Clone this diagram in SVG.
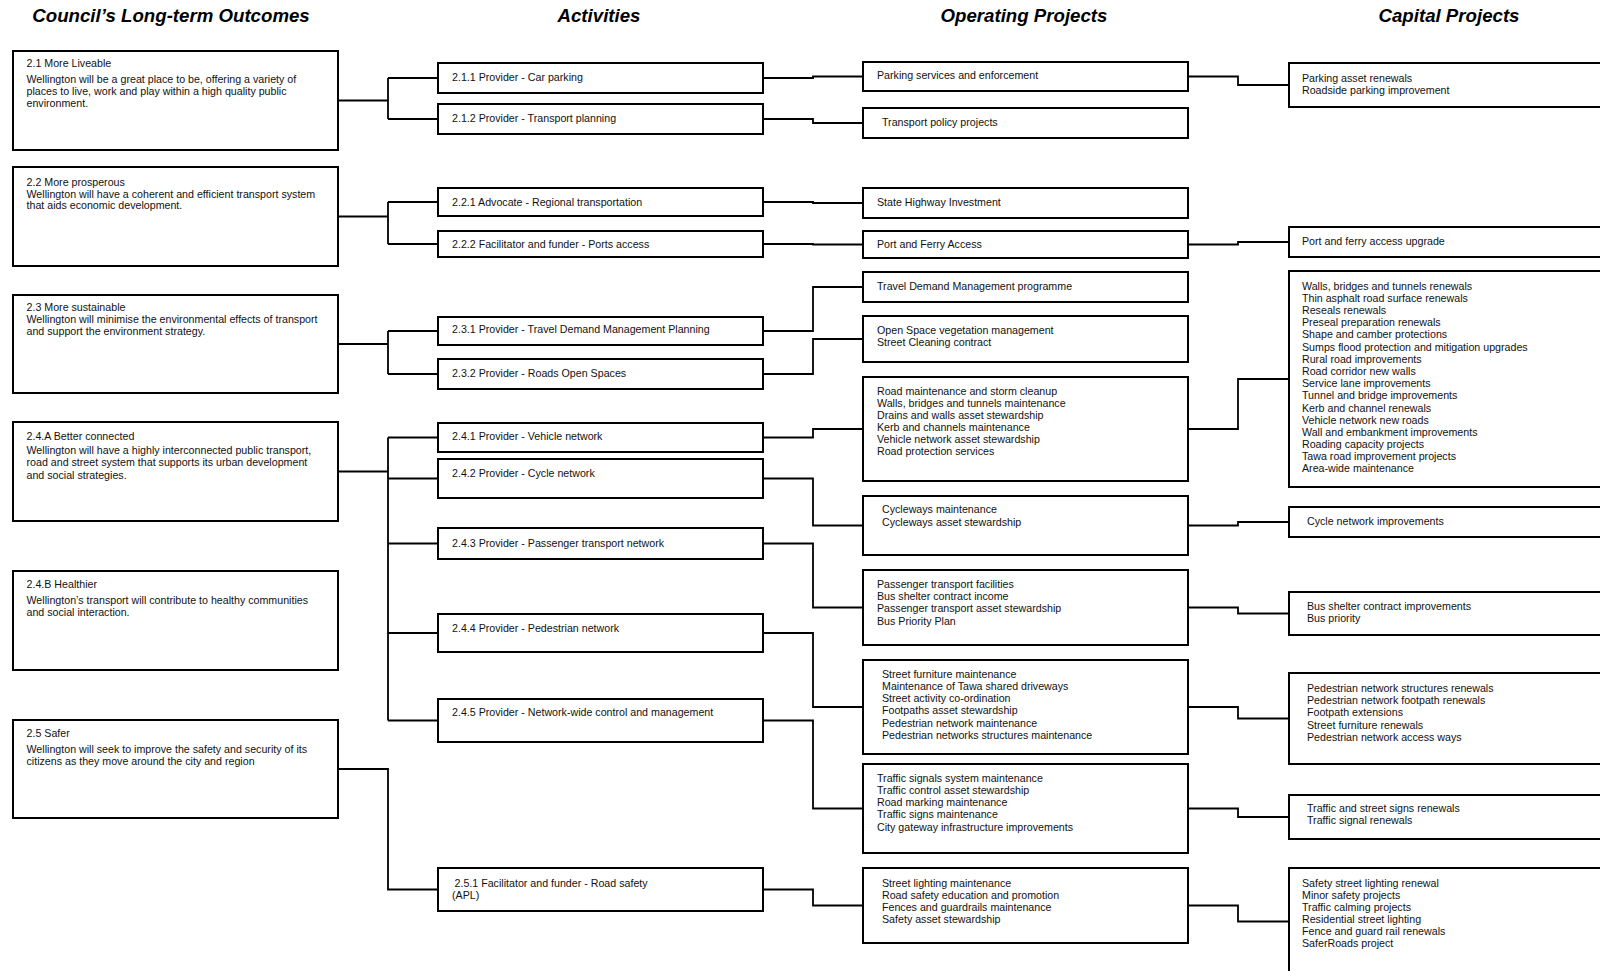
<svg xmlns="http://www.w3.org/2000/svg" width="1600" height="971" viewBox="0 0 1600 971">
<style>
  .bg { fill: #ffffff; }
  .box { fill: #ffffff; stroke: #000000; stroke-width: 2; }
  .t { font-family: "Liberation Sans", Arial, sans-serif; font-size: 10.67px; fill: #111111; }
  .h { font-family: "Liberation Sans", Arial, sans-serif; font-size: 18.67px; font-weight: bold; font-style: italic; fill: #000000; text-anchor: middle; }
  .c { fill: none; stroke: #000000; stroke-width: 1.8; }
</style>
<rect class="bg" x="0" y="0" width="1600" height="971"/>

<g id="headers">
  <text class="h" x="171" y="22">Council’s Long-term Outcomes</text>
  <text class="h" x="599" y="22">Activities</text>
  <text class="h" x="1024" y="22">Operating Projects</text>
  <text class="h" x="1449" y="22">Capital Projects</text>
</g>

<g id="connectors">
  <path class="c" d="M338 100.5 H388 M388 78 V119 M388 78 H438 M388 119 H438"/>
  <path class="c" d="M338 216.5 H388 M388 202 V244 M388 202 H438 M388 244 H438"/>
  <path class="c" d="M338 344 H388 M388 331 V374 M388 331 H438 M388 374 H438"/>
  <path class="c" d="M338 471.5 H388 M388 437.5 V720.5 M388 437.5 H438 M388 478.5 H438 M388 543.5 H438 M388 633 H438 M388 720.5 H438"/>
  <path class="c" d="M338 769 H388 V889.5 H438"/>

  <path class="c" d="M763 78 H813 V76.5 H863"/>
  <path class="c" d="M763 119 H813 V123 H863"/>
  <path class="c" d="M763 202 H813 V203 H863"/>
  <path class="c" d="M763 244 H813 V244.5 H863"/>
  <path class="c" d="M763 331 H813 V287 H863"/>
  <path class="c" d="M763 374 H813 V339 H863"/>
  <path class="c" d="M763 437.5 H813 V429 H863"/>
  <path class="c" d="M763 478.5 H813 V525.5 H863"/>
  <path class="c" d="M763 543.5 H813 V607.5 H863"/>
  <path class="c" d="M763 633 H813 V707 H863"/>
  <path class="c" d="M763 720.5 H813 V808.5 H863"/>
  <path class="c" d="M763 889.5 H813 V905.5 H863"/>

  <path class="c" d="M1188 76.5 H1238 V85 H1289"/>
  <path class="c" d="M1188 244.5 H1238 V242 H1289"/>
  <path class="c" d="M1188 429 H1238 V379 H1289"/>
  <path class="c" d="M1188 525.5 H1238 V522 H1289"/>
  <path class="c" d="M1188 607.5 H1238 V613.5 H1289"/>
  <path class="c" d="M1188 707 H1238 V718.5 H1289"/>
  <path class="c" d="M1188 808.5 H1238 V817 H1289"/>
  <path class="c" d="M1188 905.5 H1238 V921.5 H1289"/>
</g>

<!-- Outcomes -->
<g id="outcome-2-1">
  <rect class="box" x="13" y="51" width="325" height="99"/>
  <text class="t" x="26.5" y="67">2.1 More Liveable</text>
  <text class="t" x="26.5" y="82.5">Wellington will be a great place to be, offering a variety of</text>
  <text class="t" x="26.5" y="94.7">places to live, work and play within a high quality public</text>
  <text class="t" x="26.5" y="106.9">environment.</text>
</g>
<g id="outcome-2-2">
  <rect class="box" x="13" y="167" width="325" height="99"/>
  <text class="t" x="26.5" y="185.5">2.2 More prosperous</text>
  <text class="t" x="26.5" y="197.5">Wellington will have a coherent and efficient transport system</text>
  <text class="t" x="26.5" y="209">that aids economic development.</text>
</g>
<g id="outcome-2-3">
  <rect class="box" x="13" y="295" width="325" height="98"/>
  <text class="t" x="26.5" y="310.8">2.3 More sustainable</text>
  <text class="t" x="26.5" y="323">Wellington will minimise the environmental effects of transport</text>
  <text class="t" x="26.5" y="335">and support the environment strategy.</text>
</g>
<g id="outcome-2-4-a">
  <rect class="box" x="13" y="422" width="325" height="99"/>
  <text class="t" x="26.5" y="440">2.4.A Better connected</text>
  <text class="t" x="26.5" y="454">Wellington will have a highly interconnected public transport,</text>
  <text class="t" x="26.5" y="466.3">road and street system that supports its urban development</text>
  <text class="t" x="26.5" y="478.5">and social strategies.</text>
</g>
<g id="outcome-2-4-b">
  <rect class="box" x="13" y="571" width="325" height="99"/>
  <text class="t" x="26.5" y="588.3">2.4.B Healthier</text>
  <text class="t" x="26.5" y="603.5">Wellington’s transport will contribute to healthy communities</text>
  <text class="t" x="26.5" y="615.5">and social interaction.</text>
</g>
<g id="outcome-2-5">
  <rect class="box" x="13" y="720" width="325" height="98"/>
  <text class="t" x="26.5" y="737">2.5 Safer</text>
  <text class="t" x="26.5" y="752.5">Wellington will seek to improve the safety and security of its</text>
  <text class="t" x="26.5" y="764.5">citizens as they move around the city and region</text>
</g>

<!-- Activities -->
<g id="activity-2-1-1">
  <rect class="box" x="438" y="63" width="325" height="30"/>
  <text class="t" x="452" y="81">2.1.1 Provider - Car parking</text>
</g>
<g id="activity-2-1-2">
  <rect class="box" x="438" y="104" width="325" height="30"/>
  <text class="t" x="452" y="121.5">2.1.2 Provider - Transport planning</text>
</g>
<g id="activity-2-2-1">
  <rect class="box" x="438" y="188" width="325" height="28"/>
  <text class="t" x="452" y="206">2.2.1 Advocate - Regional transportation</text>
</g>
<g id="activity-2-2-2">
  <rect class="box" x="438" y="231" width="325" height="26"/>
  <text class="t" x="452" y="248">2.2.2 Facilitator and funder - Ports access</text>
</g>
<g id="activity-2-3-1">
  <rect class="box" x="438" y="317" width="325" height="28"/>
  <text class="t" x="452" y="333">2.3.1 Provider - Travel Demand Management Planning</text>
</g>
<g id="activity-2-3-2">
  <rect class="box" x="438" y="359" width="325" height="30"/>
  <text class="t" x="452" y="376.5">2.3.2 Provider - Roads Open Spaces</text>
</g>
<g id="activity-2-4-1">
  <rect class="box" x="438" y="423" width="325" height="29"/>
  <text class="t" x="452" y="439.5">2.4.1 Provider - Vehicle network</text>
</g>
<g id="activity-2-4-2">
  <rect class="box" x="438" y="459" width="325" height="39"/>
  <text class="t" x="452" y="476.5">2.4.2 Provider - Cycle network</text>
</g>
<g id="activity-2-4-3">
  <rect class="box" x="438" y="528" width="325" height="31"/>
  <text class="t" x="452" y="546.5">2.4.3 Provider - Passenger transport network</text>
</g>
<g id="activity-2-4-4">
  <rect class="box" x="438" y="614" width="325" height="38"/>
  <text class="t" x="452" y="631.5">2.4.4 Provider - Pedestrian network</text>
</g>
<g id="activity-2-4-5">
  <rect class="box" x="438" y="699" width="325" height="43"/>
  <text class="t" x="452" y="716">2.4.5 Provider - Network-wide control and management</text>
</g>
<g id="activity-2-5-1">
  <rect class="box" x="438" y="868" width="325" height="43"/>
  <text class="t" x="454.5" y="886.5">2.5.1 Facilitator and funder - Road safety</text>
  <text class="t" x="452" y="898.5">(APL)</text>
</g>

<!-- Operating projects -->
<g id="op-parking">
  <rect class="box" x="863" y="62" width="325" height="29"/>
  <text class="t" x="877" y="79">Parking services and enforcement</text>
</g>
<g id="op-transport-policy">
  <rect class="box" x="863" y="108" width="325" height="30"/>
  <text class="t" x="882" y="126">Transport policy projects</text>
</g>
<g id="op-state-highway">
  <rect class="box" x="863" y="188" width="325" height="30"/>
  <text class="t" x="877" y="206">State Highway Investment</text>
</g>
<g id="op-port-ferry">
  <rect class="box" x="863" y="231" width="325" height="27"/>
  <text class="t" x="877" y="248">Port and Ferry Access</text>
</g>
<g id="op-tdm">
  <rect class="box" x="863" y="272" width="325" height="30"/>
  <text class="t" x="877" y="290">Travel Demand Management programme</text>
</g>
<g id="op-open-space">
  <rect class="box" x="863" y="316" width="325" height="46"/>
  <text class="t" x="877" y="333.5">Open Space vegetation management</text>
  <text class="t" x="877" y="346">Street Cleaning contract</text>
</g>
<g id="op-road-maintenance">
  <rect class="box" x="863" y="377" width="325" height="104"/>
  <text class="t" x="877" y="394.5">Road maintenance and storm cleanup</text>
  <text class="t" x="877" y="406.5">Walls, bridges and tunnels maintenance</text>
  <text class="t" x="877" y="418.5">Drains and walls asset stewardship</text>
  <text class="t" x="877" y="430.5">Kerb and channels maintenance</text>
  <text class="t" x="877" y="442.8">Vehicle network asset stewardship</text>
  <text class="t" x="877" y="454.8">Road protection services</text>
</g>
<g id="op-cycleways">
  <rect class="box" x="863" y="496" width="325" height="59"/>
  <text class="t" x="882" y="513">Cycleways maintenance</text>
  <text class="t" x="882" y="525.5">Cycleways asset stewardship</text>
</g>
<g id="op-passenger">
  <rect class="box" x="863" y="570" width="325" height="75"/>
  <text class="t" x="877" y="587.5">Passenger transport facilities</text>
  <text class="t" x="877" y="600">Bus shelter contract income</text>
  <text class="t" x="877" y="612">Passenger transport asset stewardship</text>
  <text class="t" x="877" y="624.5">Bus Priority Plan</text>
</g>
<g id="op-street-furniture">
  <rect class="box" x="863" y="660" width="325" height="94"/>
  <text class="t" x="882" y="677.5">Street furniture maintenance</text>
  <text class="t" x="882" y="690">Maintenance of Tawa shared driveways</text>
  <text class="t" x="882" y="702">Street activity co-ordination</text>
  <text class="t" x="882" y="714.3">Footpaths asset stewardship</text>
  <text class="t" x="882" y="726.5">Pedestrian network maintenance</text>
  <text class="t" x="882" y="738.5">Pedestrian networks structures maintenance</text>
</g>
<g id="op-traffic-signals">
  <rect class="box" x="863" y="764" width="325" height="89"/>
  <text class="t" x="877" y="781.5">Traffic signals system maintenance</text>
  <text class="t" x="877" y="794">Traffic control asset stewardship</text>
  <text class="t" x="877" y="806.3">Road marking maintenance</text>
  <text class="t" x="877" y="818.3">Traffic signs maintenance</text>
  <text class="t" x="877" y="830.5">City gateway infrastructure improvements</text>
</g>
<g id="op-street-lighting">
  <rect class="box" x="863" y="868" width="325" height="75"/>
  <text class="t" x="882" y="886.5">Street lighting maintenance</text>
  <text class="t" x="882" y="898.5">Road safety education and promotion</text>
  <text class="t" x="882" y="910.5">Fences and guardrails maintenance</text>
  <text class="t" x="882" y="922.5">Safety asset stewardship</text>
</g>

<!-- Capital projects -->
<g id="cap-parking">
  <rect class="box" x="1289" y="63" width="330" height="44"/>
  <text class="t" x="1302" y="81.5">Parking asset renewals</text>
  <text class="t" x="1302" y="93.5">Roadside parking improvement</text>
</g>
<g id="cap-port-ferry">
  <rect class="box" x="1289" y="227" width="330" height="30"/>
  <text class="t" x="1302" y="244.5">Port and ferry access upgrade</text>
</g>
<g id="cap-vehicle-network">
  <rect class="box" x="1289" y="271" width="330" height="216"/>
  <text class="t" x="1302" y="289.7">Walls, bridges and tunnels renewals</text>
  <text class="t" x="1302" y="301.9">Thin asphalt road surface renewals</text>
  <text class="t" x="1302" y="314.1">Reseals renewals</text>
  <text class="t" x="1302" y="326.2">Preseal preparation renewals</text>
  <text class="t" x="1302" y="338.4">Shape and camber protections</text>
  <text class="t" x="1302" y="350.6">Sumps flood protection and mitigation upgrades</text>
  <text class="t" x="1302" y="362.8">Rural road improvements</text>
  <text class="t" x="1302" y="375">Road corridor new walls</text>
  <text class="t" x="1302" y="387.1">Service lane improvements</text>
  <text class="t" x="1302" y="399.3">Tunnel and bridge improvements</text>
  <text class="t" x="1302" y="411.5">Kerb and channel renewals</text>
  <text class="t" x="1302" y="423.7">Vehicle network new roads</text>
  <text class="t" x="1302" y="435.9">Wall and embankment improvements</text>
  <text class="t" x="1302" y="448">Roading capacity projects</text>
  <text class="t" x="1302" y="460.2">Tawa road improvement projects</text>
  <text class="t" x="1302" y="472.4">Area-wide maintenance</text>
</g>
<g id="cap-cycle">
  <rect class="box" x="1289" y="507" width="330" height="30"/>
  <text class="t" x="1307" y="525">Cycle network improvements</text>
</g>
<g id="cap-bus">
  <rect class="box" x="1289" y="592" width="330" height="43"/>
  <text class="t" x="1307" y="609.5">Bus shelter contract improvements</text>
  <text class="t" x="1307" y="621.5">Bus priority</text>
</g>
<g id="cap-pedestrian">
  <rect class="box" x="1289" y="673" width="330" height="91"/>
  <text class="t" x="1307" y="692">Pedestrian network structures renewals</text>
  <text class="t" x="1307" y="704.3">Pedestrian network footpath renewals</text>
  <text class="t" x="1307" y="716.3">Footpath extensions</text>
  <text class="t" x="1307" y="728.5">Street furniture renewals</text>
  <text class="t" x="1307" y="741">Pedestrian network access ways</text>
</g>
<g id="cap-traffic">
  <rect class="box" x="1289" y="795" width="330" height="44"/>
  <text class="t" x="1307" y="811.5">Traffic and street signs renewals</text>
  <text class="t" x="1307" y="823.5">Traffic signal renewals</text>
</g>
<g id="cap-safety">
  <rect class="box" x="1289" y="868" width="330" height="110"/>
  <text class="t" x="1302" y="886.5">Safety street lighting renewal</text>
  <text class="t" x="1302" y="898.5">Minor safety projects</text>
  <text class="t" x="1302" y="910.5">Traffic calming projects</text>
  <text class="t" x="1302" y="922.5">Residential street lighting</text>
  <text class="t" x="1302" y="935">Fence and guard rail renewals</text>
  <text class="t" x="1302" y="947">SaferRoads project</text>
</g>
</svg>
